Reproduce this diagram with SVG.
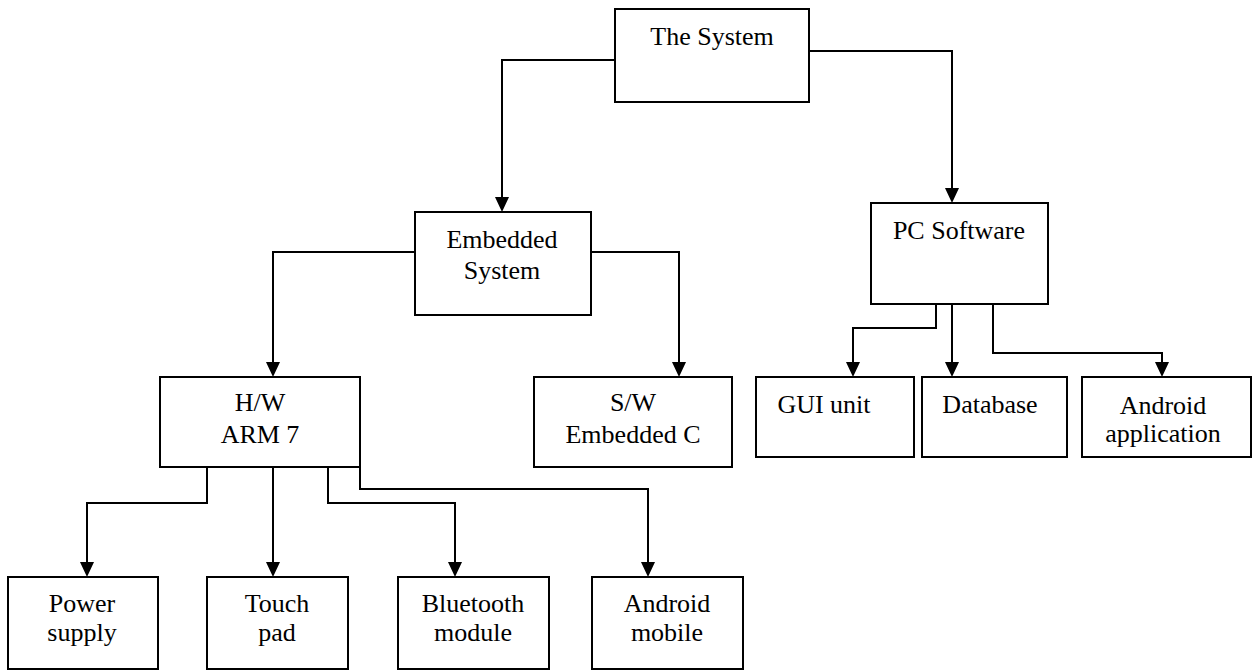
<svg xmlns="http://www.w3.org/2000/svg" width="1256" height="671" viewBox="0 0 1256 671">
<style>
.box{fill:#fff;stroke:#000;stroke-width:2}
.t{font-family:"Liberation Serif","Times New Roman",serif;font-size:26px;fill:#000;text-anchor:middle}
.c{fill:none;stroke:#000;stroke-width:2}
</style>
<defs>
<marker id="ah" viewBox="0 0 15 14" refX="0" refY="7" markerWidth="15" markerHeight="14" markerUnits="userSpaceOnUse" orient="auto">
<path d="M0,0 L15,7 L0,14 z" fill="#000"/>
</marker>
</defs>
<rect width="1256" height="671" fill="#fff"/>
<g id="connectors">
<path class="c" d="M615,60 H502 V197" marker-end="url(#ah)"/>
<path class="c" d="M809,51 H952 V188" marker-end="url(#ah)"/>
<path class="c" d="M415,252 H273 V362" marker-end="url(#ah)"/>
<path class="c" d="M591,252 H679 V362" marker-end="url(#ah)"/>
<path class="c" d="M207,467 V503 H87 V562" marker-end="url(#ah)"/>
<path class="c" d="M273,467 V562" marker-end="url(#ah)"/>
<path class="c" d="M328,467 V503 H455 V562" marker-end="url(#ah)"/>
<path class="c" d="M360,467 V489 H648 V562" marker-end="url(#ah)"/>
<path class="c" d="M936,304 V328 H853 V362" marker-end="url(#ah)"/>
<path class="c" d="M952,304 V362" marker-end="url(#ah)"/>
<path class="c" d="M993,304 V353 H1162 V362" marker-end="url(#ah)"/>
</g>
<g id="the-system">
<rect class="box" x="615" y="9" width="194" height="93"/>
<text class="t" x="712" y="45">The System</text>
</g>
<g id="embedded-system">
<rect class="box" x="415" y="212" width="176" height="103"/>
<text class="t" x="502" y="248">Embedded</text>
<text class="t" x="502" y="279">System</text>
</g>
<g id="pc-software">
<rect class="box" x="871" y="203" width="177" height="101"/>
<text class="t" x="959" y="239">PC Software</text>
</g>
<g id="hw-arm7">
<rect class="box" x="160" y="377" width="200" height="90"/>
<text class="t" x="260" y="411">H/W</text>
<text class="t" x="260" y="443">ARM 7</text>
</g>
<g id="sw-embedded-c">
<rect class="box" x="534" y="377" width="198" height="90"/>
<text class="t" x="633" y="411">S/W</text>
<text class="t" x="633" y="443">Embedded C</text>
</g>
<g id="gui-unit">
<rect class="box" x="756" y="377" width="158" height="80"/>
<text class="t" x="824" y="413">GUI unit</text>
</g>
<g id="database">
<rect class="box" x="922" y="377" width="145" height="80"/>
<text class="t" x="990" y="413">Database</text>
</g>
<g id="android-application">
<rect class="box" x="1082" y="377" width="169" height="80"/>
<text class="t" x="1163" y="414">Android</text>
<text class="t" x="1163" y="442">application</text>
</g>
<g id="power-supply">
<rect class="box" x="8" y="577" width="150" height="92"/>
<text class="t" x="82" y="612">Power</text>
<text class="t" x="82" y="641">supply</text>
</g>
<g id="touch-pad">
<rect class="box" x="207" y="577" width="141" height="92"/>
<text class="t" x="277" y="612">Touch</text>
<text class="t" x="277" y="641">pad</text>
</g>
<g id="bluetooth-module">
<rect class="box" x="398" y="577" width="151" height="92"/>
<text class="t" x="473" y="612">Bluetooth</text>
<text class="t" x="473" y="641">module</text>
</g>
<g id="android-mobile">
<rect class="box" x="592" y="577" width="151" height="92"/>
<text class="t" x="667" y="612">Android</text>
<text class="t" x="667" y="641">mobile</text>
</g>
</svg>
